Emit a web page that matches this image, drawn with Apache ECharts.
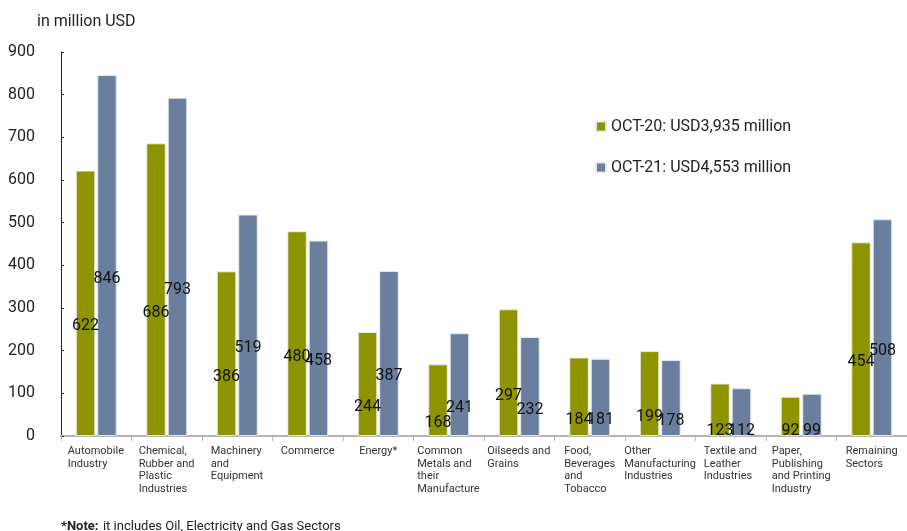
<!DOCTYPE html>
<html>
<head>
<meta charset="utf-8">
<script src="https://cdn.jsdelivr.net/npm/echarts@6/dist/echarts.min.js"></script>
<style>html,body{margin:0;padding:0;background:#fff}#c{width:907px;height:531px}</style>
</head>
<body>
<div id="c"></div>
<script>
var categories = [
  "Automobile\nIndustry",
  "Chemical,\nRubber and\nPlastic\nIndustries",
  "Machinery\nand\nEquipment",
  "Commerce",
  "Energy*",
  "Common\nMetals and\ntheir\nManufacture",
  "Oilseeds and\nGrains",
  "Food,\nBeverages\nand\nTobacco",
  "Other\nManufacturing\nIndustries",
  "Textile and\nLeather\nIndustries",
  "Paper,\nPublishing\nand Printing\nIndustry",
  "Remaining\nSectors"
];
var seriesNames = ["OCT-20: USD3,935 million", "OCT-21: USD4,553 million"];
var oct20 = [622, 686, 386, 480, 244, 168, 297, 184, 199, 123, 92, 454];
var oct21 = [846, 793, 519, 458, 387, 241, 232, 181, 178, 112, 99, 508];
var yTicks = { min: 0, max: 900, interval: 100 };

var colors = ["#8e9300", "#6a7f9e"];
var gridTop = 52, gridBottom = 95;
var plotH = 531 - gridTop - gridBottom;
var k = plotH / (yTicks.max - yTicks.min);

var cv = document.createElement('canvas').getContext('2d');
cv.font = '11px Roboto';
var rich = {};
categories.forEach(function (c, i) {
  var w = 0;
  c.split('\n').forEach(function (l) { w = Math.max(w, cv.measureText(l).width); });
  rich['c' + i] = { width: Math.ceil(w), align: 'left', fontSize: 11, lineHeight: 12.5, color: '#333', fontFamily: 'Roboto' };
});

function items(vals) {
  return vals.map(function (v) {
    var dy = Math.min(23, v * k / 2 - 5);
    return { value: v, label: { offset: [0, dy] } };
  });
}

var chart = echarts.init(document.getElementById('c'), null, { renderer: 'canvas' });
chart.setOption({
  animation: false,
  textStyle: { fontFamily: 'Roboto' },
  title: [
    { text: 'in million USD', left: 32, top: 9, textStyle: { fontSize: 16, fontWeight: 'normal', color: '#222', fontFamily: 'Roboto' } },
    { text: '{b|*Note:} {n|it includes Oil, Electricity and Gas Sectors}', left: 61, top: 518, padding: 0,
      textStyle: { fontWeight: 'normal', rich: { b: { fontWeight: 'bold', fontSize: 13, lineHeight: 16, color: '#222', fontFamily: 'Roboto' }, n: { fontWeight: 'normal', fontSize: 13, lineHeight: 16, color: '#222', fontFamily: 'Roboto' } } } }
  ],
  legend: {
    orient: 'vertical', left: 590, top: 112,
    itemWidth: 10, itemHeight: 10, itemGap: 22,
    icon: 'rect',
    textStyle: { fontSize: 16, color: '#222', lineHeight: 19, fontFamily: 'Roboto' },
    data: seriesNames
  },
  grid: { left: 61, right: -7, top: gridTop, bottom: gridBottom, containLabel: false },
  xAxis: {
    type: 'category',
    data: categories,
    axisLine: { lineStyle: { color: '#b4b4b4', width: 2 } },
    axisTick: { show: true, length: 5, lineStyle: { color: '#b4b4b4' } },
    axisLabel: {
      interval: 0, margin: 9, align: 'center', verticalAlign: 'top',
      formatter: function (v, i) {
        return v.split('\n').map(function (l) { return '{c' + i + '|' + l + '}'; }).join('\n');
      },
      rich: rich
    }
  },
  yAxis: {
    type: 'value', min: yTicks.min, max: yTicks.max, interval: yTicks.interval,
    axisLine: { show: true, lineStyle: { color: '#222', width: 1 } },
    axisTick: { show: true, inside: true, length: 3, lineStyle: { color: '#222' } },
    splitLine: { show: false },
    axisLabel: { margin: 26, fontSize: 16, color: '#222', fontFamily: 'Roboto' }
  },
  series: [
    { name: seriesNames[0], type: 'bar', data: items(oct20), barWidth: 19.5, barGap: '10%',
      itemStyle: { color: colors[0], borderColor: 'rgba(235,238,242,0.9)', borderWidth: 1 },
      label: { show: true, position: 'inside', fontSize: 16, color: '#111', fontFamily: 'Roboto' } },
    { name: seriesNames[1], type: 'bar', data: items(oct21), barWidth: 19.5, barGap: '10%',
      itemStyle: { color: colors[1], borderColor: 'rgba(235,238,242,0.9)', borderWidth: 1 },
      label: { show: true, position: 'inside', fontSize: 16, color: '#111', fontFamily: 'Roboto' } }
  ]
});
</script>
</body>
</html>
